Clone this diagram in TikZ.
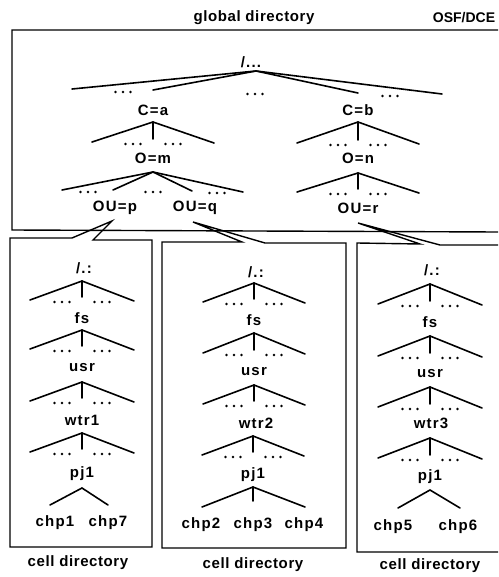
\documentclass[tikz,border=0pt]{standalone}
\usepackage{fontspec}
\setmainfont{Liberation Sans}
\tikzset{
  lbl/.style={font=\bfseries\fontsize{15}{17}\selectfont\addfontfeatures{LetterSpace=8}, inner sep=0pt, anchor=center},
  captxt/.style={font=\bfseries\fontsize{15}{17}\selectfont\addfontfeatures{LetterSpace=4}, inner sep=0pt, anchor=center},
  edge/.style={line width=1.6pt, line cap=round},
  frame/.style={line width=1.4pt, line join=miter},
  ddd/.pic={\foreach \i in {-7.5,0,7.5} \fill (\i,0) circle (1.3);}
}
% standard fan: name, x, apex y, half width, drop
\newcommand\stdfan[5]{%
  \coordinate (#1a) at (#2,#3);
  \coordinate (#1l) at ({#2-#4},{#3+#5});
  \coordinate (#1r) at ({#2+#4},{#3+#5+1});
  \coordinate (#1m) at (#2,{#3+#5-3});
  \draw[edge] (#1l) -- (#1a) -- (#1r);
  \draw[edge] (#1a) -- (#1m);
  \pic at ({#2-20},{#3+#5+2}) {ddd};
  \pic at ({#2+20},{#3+#5+2}) {ddd};
}
\begin{document}
\begin{tikzpicture}[x=1pt,y=-1pt]
\useasboundingbox (0,0) rectangle (498,577);

% titles
\node[captxt] (gd) at (254,18) {global directory};
\node[font=\bfseries\fontsize{14}{16}\selectfont, inner sep=0pt] (osf) at (464,18) {OSF/DCE};

% global box
\draw[frame] (498,30) -- (12,30) -- (12,230) -- (498,232);

% global tree
\node[lbl] (root) at (251,62) {/...};
\coordinate (ra) at (256,71);
\coordinate (r1) at (72,89);
\coordinate (r2) at (153,90);
\coordinate (r3) at (358,93);
\coordinate (r4) at (442,94);
\draw[edge] (r1) -- (ra) -- (r4);
\draw[edge] (r2) -- (ra) -- (r3);
\pic at (123,92) {ddd};
\pic at (255,94) {ddd};
\pic at (390,96) {ddd};

\node[lbl] (ca) at (153,110) {C=a};
\node[lbl] (cb) at (358,110) {C=b};
\stdfan{fa}{153}{122}{61}{20}
\stdfan{fb}{358}{122}{61}{21}

\node[lbl] (om) at (153,158) {O=m};
\node[lbl] (on) at (358,158) {O=n};
\coordinate (ma) at (153,172);
\coordinate (m1) at (62,190);
\coordinate (m2) at (113,190);
\coordinate (m3) at (192,191);
\coordinate (m4) at (243,192);
\draw[edge] (m1) -- (ma) -- (m4);
\draw[edge] (m2) -- (ma) -- (m3);
\pic at (88,192) {ddd};
\pic at (153,192) {ddd};
\pic at (217,193) {ddd};
\stdfan{fn}{358}{173}{61}{19}

\node[lbl] (oup) at (115,208) {OU=p};
\node[lbl] (ouq) at (195,208) {OU=q};
\node[lbl] (our) at (358,208) {OU=r};

% cell boxes with pointers
\coordinate (tp) at (112,221);
\coordinate (tq) at (193,222);
\coordinate (tr) at (358,223);
\draw[frame] (72,238) -- (10,238) -- (10,547) -- (152,547) -- (152,240) -- (93,240) -- (tp) -- cycle;
\draw[frame] (242,242) -- (162,242) -- (162,548) -- (346,548) -- (346,243) -- (265,243) -- (tq) -- cycle;
\draw[frame] (498,552) -- (357,552) -- (357,243) -- (420,244) -- (tr) -- (440,245) -- (498,245);

% left cell tree
\node[lbl] (l0) at (84,268) {/.:};
\stdfan{la}{82}{281}{52}{19}
\node[lbl] (l1) at (82,318) {fs};
\stdfan{lb}{82}{330}{52}{19}
\node[lbl] (l2) at (82,368) {usr};
\stdfan{lc}{82}{382}{52}{19}
\node[lbl] (l3) at (82,420) {wtr1};
\stdfan{ld}{82}{433}{52}{19}
\node[lbl] (l4) at (82,474) {pj1};
\coordinate (lea) at (82,488);
\coordinate (lel) at (50,505);
\coordinate (ler) at (108,505);
\draw[edge] (lel) -- (lea) -- (ler);
\node[lbl] (chp1) at (55,523) {chp1};
\node[lbl] (chp7) at (108,523) {chp7};

% middle cell tree
\node[lbl] (m0) at (256,272) {/.:};
\stdfan{ma}{254}{283}{51}{19}
\node[lbl] (m1n) at (254,320) {fs};
\stdfan{mb}{254}{333}{51}{20}
\node[lbl] (m2n) at (254,372) {usr};
\stdfan{mc}{254}{385}{51}{19}
\node[lbl] (m3n) at (256,423) {wtr2};
\stdfan{md}{253}{436}{51}{19}
\node[lbl] (m4n) at (253,475) {pj1};
\coordinate (mea) at (253,487);
\coordinate (mel) at (202,507);
\coordinate (mer) at (305,507);
\coordinate (mem) at (253,501);
\draw[edge] (mel) -- (mea) -- (mer);
\draw[edge] (mea) -- (mem);
\node[lbl] (chp2) at (201,525) {chp2};
\node[lbl] (chp3) at (253,525) {chp3};
\node[lbl] (chp4) at (304,525) {chp4};

% right cell tree
\node[lbl] (r0) at (432,270) {/.:};
\stdfan{ra}{430}{284}{52}{20}
\node[lbl] (r1n) at (430,322) {fs};
\stdfan{rb}{430}{336}{52}{20}
\node[lbl] (r2n) at (430,374) {usr};
\stdfan{rc}{430}{387}{52}{20}
\node[lbl] (r3n) at (431,423) {wtr3};
\stdfan{rd}{430}{438}{52}{20}
\node[lbl] (r4n) at (430,477) {pj1};
\coordinate (rea) at (430,490);
\coordinate (rel) at (398,508);
\coordinate (rer) at (460,508);
\draw[edge] (rel) -- (rea) -- (rer);
\node[lbl] (chp5) at (393,527) {chp5};
\node[lbl] (chp6) at (458,527) {chp6};

% captions
\node[captxt] (cd1) at (78,563) {cell directory};
\node[captxt] (cd2) at (253,565) {cell directory};
\node[captxt] (cd3) at (430,566) {cell directory};
\end{tikzpicture}
\end{document}
